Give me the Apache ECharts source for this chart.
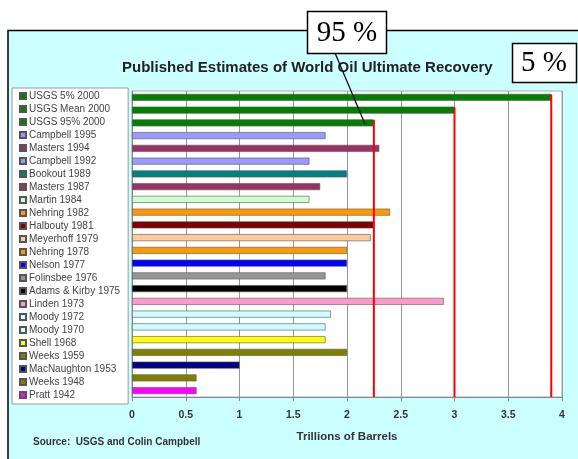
<!DOCTYPE html>
<html>
<head>
<meta charset="utf-8">
<script src="https://cdn.jsdelivr.net/npm/echarts@6/dist/echarts.min.js"></script>
<style>
  html, body { margin: 0; padding: 0; background: #fff; }
  #chart { width: 578px; height: 459px; }
</style>
</head>
<body>
<div id="chart"></div>
<script>
// estimates, top to bottom as listed in the legend
var categories = ['USGS 5% 2000', 'USGS Mean 2000', 'USGS 95% 2000', 'Campbell 1995', 'Masters 1994',
  'Campbell 1992', 'Bookout 1989', 'Masters 1987', 'Martin 1984', 'Nehring 1982', 'Halbouty 1981',
  'Meyerhoff 1979', 'Nehring 1978', 'Nelson 1977', 'Folinsbee 1976', 'Adams & Kirby 1975', 'Linden 1973',
  'Moody 1972', 'Moody 1970', 'Shell 1968', 'Weeks 1959', 'MacNaughton 1953', 'Weeks 1948', 'Pratt 1942'];
var estimates = [3.9, 3.0, 2.25, 1.8, 2.3, 1.65, 2.0, 1.75, 1.65, 2.4, 2.25, 2.22, 2.0, 2.0, 1.8, 2.0,
  2.9, 1.85, 1.8, 1.8, 2.0, 1.0, 0.6, 0.6];
var barColors = ['#008000', '#008000', '#008000', '#9999ff', '#993366', '#9999ff', '#008080', '#993366',
  '#ccffcc', '#ff9900', '#800000', '#ffcc99', '#ff9900', '#0000ff', '#969696', '#000000', '#ff99cc',
  '#ccffff', '#ccffff', '#ffff00', '#808000', '#000080', '#808000', '#ff00ff'];
// USGS 5%, mean and 95% rows get a red reference line down to the axis
var usgsRows = [0, 1, 2];
var xTicks = { min: 0, max: 4, interval: 0.5 };

var myChart = echarts.init(document.getElementById('chart'));

var barSeries = categories.map(function (name, i) {
  return {
    name: name,
    type: 'bar',
    barWidth: 7,
    barGap: '-100%',
    data: estimates.map(function (v, j) { return j === i ? v : '-'; }),
    itemStyle: { color: barColors[i], borderColor: '#555', borderWidth: 0.6 }
  };
});

var redLines = {
  type: 'custom',
  name: 'usgs lines',
  z: 5,
  data: usgsRows.map(function (i) { return [estimates[i], i]; }),
  renderItem: function (params, api) {
    var p = api.coord([api.value(0), api.value(1)]);
    var cs = params.coordSys;
    return {
      type: 'line',
      shape: { x1: p[0], y1: p[1] - 3, x2: p[0], y2: cs.y + cs.height },
      style: { stroke: '#ff0000', lineWidth: 2 }
    };
  }
};

var option = {
  backgroundColor: '#fff',
  animation: false,
  title: [{
    text: 'Published Estimates of World Oil Ultimate Recovery',
    left: 122, top: 60, padding: 0,
    textStyle: { fontSize: 15, fontWeight: 'bold', color: '#222', fontFamily: 'Liberation Sans' }
  }, {
    text: 'Source:  USGS and Colin Campbell',
    left: 33, top: 437, padding: 0,
    textStyle: { fontSize: 10, fontWeight: 'bold', color: '#333', fontFamily: 'Liberation Sans' }
  }],
  graphic: [
    { type: 'rect', z: -10, shape: { x: 8, y: 30.5, width: 600, height: 460 },
      style: { fill: '#ccffff', stroke: '#000', lineWidth: 1.5 } },
    { type: 'line', z: 100, shape: { x1: 335, y1: 53, x2: 365, y2: 124 },
      style: { stroke: '#000', lineWidth: 1.2 } },
    { type: 'rect', z: 100, shape: { x: 307.5, y: 11.5, width: 79, height: 42 },
      style: { fill: '#fff', stroke: '#000', lineWidth: 1.5 } },
    { type: 'text', z: 101, x: 347, y: 33,
      style: { text: '95 %', font: '29px "Liberation Serif"', fill: '#000', align: 'center', verticalAlign: 'middle' } },
    { type: 'rect', z: 100, shape: { x: 512.5, y: 43.5, width: 64, height: 39 },
      style: { fill: '#fff', stroke: '#000', lineWidth: 1.5 } },
    { type: 'text', z: 101, x: 544, y: 63,
      style: { text: '5 %', font: '29px "Liberation Serif"', fill: '#000', align: 'center', verticalAlign: 'middle' } }
  ],
  legend: {
    data: categories,
    orient: 'vertical',
    left: 12, top: 88,
    icon: 'rect',
    itemWidth: 6, itemHeight: 6, itemGap: 3,
    selectedMode: false,
    backgroundColor: '#fff',
    borderColor: '#999', borderWidth: 1,
    padding: [3, 8, 4, 7],
    textStyle: { fontSize: 10, lineHeight: 10, color: '#444', fontFamily: 'Liberation Sans', padding: [0, 0, 0, -2] }
  },
  grid: {
    left: 132, right: 16, top: 91, bottom: 62,
    show: true, backgroundColor: '#fff', borderColor: '#aaa', borderWidth: 1
  },
  xAxis: {
    type: 'value',
    min: xTicks.min, max: xTicks.max, interval: xTicks.interval,
    name: 'Trillions of Barrels',
    nameLocation: 'middle', nameGap: 34,
    nameTextStyle: { fontSize: 11.5, fontWeight: 'bold', color: '#333', fontFamily: 'Liberation Sans' },
    axisLine: { show: true, lineStyle: { color: '#888' } },
    axisTick: { show: true, length: 4, lineStyle: { color: '#888' } },
    axisLabel: { fontSize: 10.5, fontWeight: 'bold', color: '#333', margin: 13, fontFamily: 'Liberation Sans' },
    splitLine: { show: true, lineStyle: { color: '#999', width: 1 } }
  },
  yAxis: {
    type: 'category',
    data: categories,
    inverse: true,
    axisLine: { show: true, lineStyle: { color: '#888' } },
    axisTick: { show: false },
    axisLabel: { show: false },
    splitLine: { show: false }
  },
  series: barSeries.concat([redLines])
};

myChart.setOption(option);
</script>
</body>
</html>
